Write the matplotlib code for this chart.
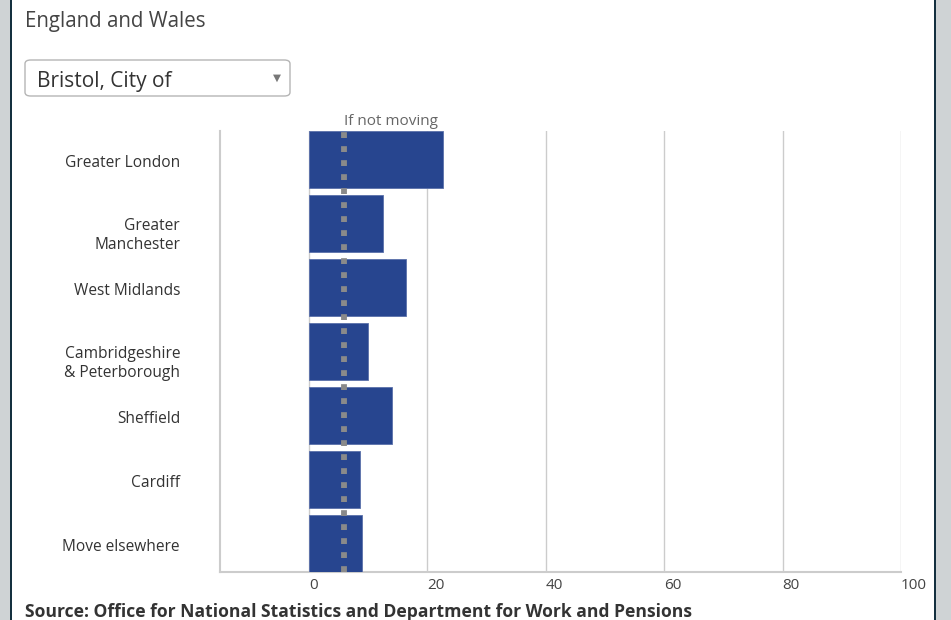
import matplotlib.pyplot as plt
from matplotlib.patches import FancyBboxPatch, Rectangle
from matplotlib.transforms import blended_transform_factory, ScaledTranslation

plt.rcParams['font.family'] = ['Open Sans', 'DejaVu Sans']

# Data
regions = [
    "Greater London",
    "Greater\nManchester",
    "West Midlands",
    "Cambridgeshire\n& Peterborough",
    "Sheffield",
    "Cardiff",
    "Move elsewhere",
]
values = [22.7, 12.6, 16.4, 10.0, 14.1, 8.7, 9.0]
not_moving = 6.0
x_ticks = [0, 20, 40, 60, 80, 100]

W, H = 951, 620
fig = plt.figure(figsize=(W / 100, H / 100), dpi=100)
fig.patch.set_facecolor('white')

# page frame (gray strips and dark borders)
fig.patches.append(Rectangle((0, 0), 10 / W, 1, transform=fig.transFigure,
                             facecolor='#cfd3d5', edgecolor='none'))
fig.patches.append(Rectangle((10 / W, 0), 2 / W, 1, transform=fig.transFigure,
                             facecolor='#14303f', edgecolor='none'))
fig.patches.append(Rectangle((934 / W, 0), 2 / W, 1, transform=fig.transFigure,
                             facecolor='#14303f', edgecolor='none'))
fig.patches.append(Rectangle((936 / W, 0), 15 / W, 1, transform=fig.transFigure,
                             facecolor='#cfd3d5', edgecolor='none'))

# header
fig.text(25 / W, 1 - 22 / H, "England and Wales", fontsize=14.8, color='#444444',
         ha='left', va='center')
fig.patches.append(FancyBboxPatch((25 / W, 1 - 96 / H), 265 / W, 36 / H,
                                  boxstyle="round,pad=0,rounding_size=0.006",
                                  transform=fig.transFigure, facecolor='white',
                                  edgecolor='#b5b5b5', linewidth=1))
fig.text(37 / W, 1 - 81 / H, "Bristol, City of", fontsize=15, color='#333333',
         ha='left', va='center')
fig.text(277 / W, 1 - 78 / H, "\u25BC", fontsize=7.5, color='#777777',
         ha='center', va='center')

# chart
ax = fig.add_axes([220 / W, 48 / H, 681 / W, 441 / H])
ypos = list(range(len(regions)))
ax.barh(ypos, values, height=0.89, color='#27458f', edgecolor='#5a70aa',
        linewidth=0.6, zorder=3)
ax.axvline(not_moving, color='#8a8a8a', linewidth=4.2,
           linestyle=(0, (1.0, 1.4)), zorder=4)
ax.text(not_moving, -0.47, "If not moving", fontsize=11, color='#666666',
        ha='left', va='bottom')

ax.set_xlim(-15, 100)
ax.set_ylim(len(regions) - 0.555, -0.445)
ax.set_xticks(x_ticks)
ax.set_xticklabels([str(t) for t in x_ticks], ha='left')
ax.set_yticks([])
ax.tick_params(axis='x', length=0, pad=4, labelsize=11, labelcolor='#444444')
ax.grid(axis='x', color='#cccccc', linewidth=1, zorder=0)
for s in ['top', 'right']:
    ax.spines[s].set_visible(False)
for s in ['left', 'bottom']:
    ax.spines[s].set_color('#cccccc')
    ax.spines[s].set_linewidth(1.5)

# category labels: first line sits at the bar centre
lab_tr = blended_transform_factory(ax.transAxes, ax.transData) + \
    ScaledTranslation(-40 / 100, 0, fig.dpi_scale_trans)
for y, name in zip(ypos, regions):
    off = 0.19 if "\n" in name else 0.05
    ax.text(0, y + off, name, transform=lab_tr, fontsize=11.2, color='#333333',
            ha='right', va='center', multialignment='right', linespacing=1.2)

fig.text(25 / W, 1 - 612 / H,
         "Source: Office for National Statistics and Department for Work and Pensions",
         fontsize=12.6, fontweight='bold', color='#333333', ha='left', va='center')

fig.savefig("out.png", dpi=100)
